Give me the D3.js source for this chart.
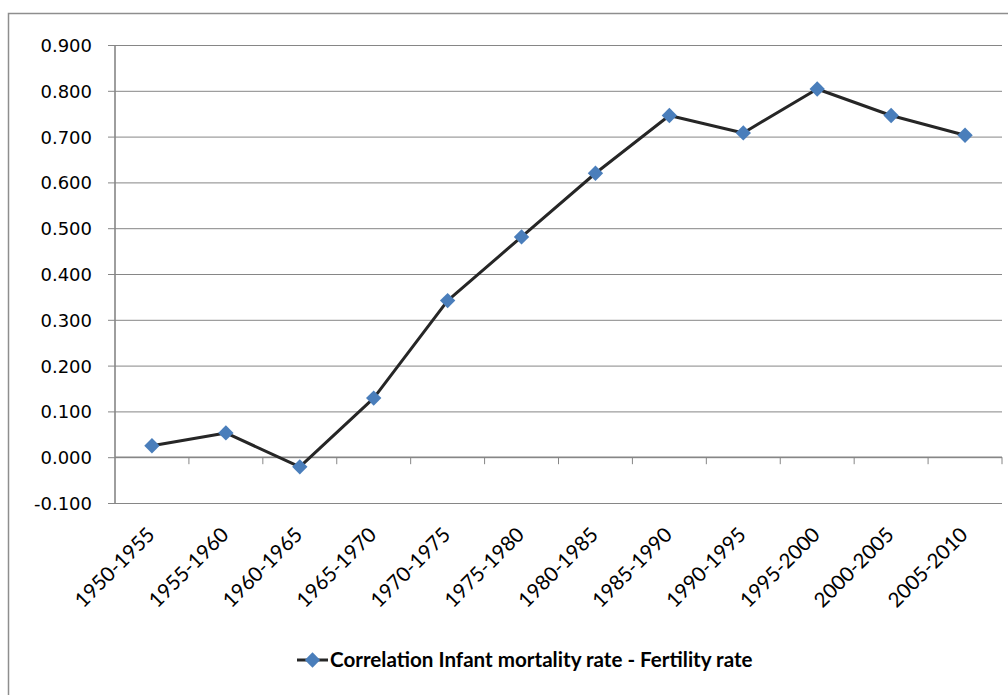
<!DOCTYPE html>
<html>
<head>
<meta charset="utf-8">
<script src="https://cdn.jsdelivr.net/npm/d3@7"></script>
<style>
  html, body { margin: 0; padding: 0; background: #fff; }
  svg { display: block; }
</style>
</head>
<body>
<svg id="chart" width="1008" height="695"></svg>
<script>
// Periods on the x axis
const periods = ["1950-1955", "1955-1960", "1960-1965", "1965-1970", "1970-1975", "1975-1980",
                 "1980-1985", "1985-1990", "1990-1995", "1995-2000", "2000-2005", "2005-2010"];
// Correlation between infant mortality rate and fertility rate per period
const correlation = [0.025, 0.053, -0.021, 0.129, 0.342, 0.481, 0.620, 0.746, 0.708, 0.804, 0.746, 0.703];
// Value axis ticks
const yTicks = [-0.1, 0, 0.1, 0.2, 0.3, 0.4, 0.5, 0.6, 0.7, 0.8, 0.9];
const seriesName = "Correlation Infant mortality rate - Fertility rate";

const svg = d3.select("#chart");
const plot = { left: 115, right: 1002, top: 45, bottom: 503 };

const x = d3.scaleBand().domain(periods).range([plot.left, plot.right]).padding(0);
const y = d3.scaleLinear().domain([-0.1, 0.9]).range([plot.bottom, plot.top]);

// Chart frame
svg.append("path")
  .attr("d", "M8.5,700 V13.5 H1010")
  .attr("fill", "none")
  .attr("stroke", "#8e8e8e")
  .attr("stroke-width", 1.5);

// Plain hyphen for negatives, three decimals
const fmt = d => d.toFixed(3);

// Horizontal gridlines with small ticks left of the value axis
const yAxis = d3.axisLeft(y)
  .tickValues(yTicks)
  .tickSize(-(plot.right - plot.left))
  .tickFormat(fmt);
const gy = svg.append("g")
  .attr("transform", `translate(${plot.left},0)`)
  .call(yAxis);
gy.select(".domain").remove();
gy.selectAll(".tick line")
  .attr("x1", -7)
  .attr("stroke", "#868686")
  .attr("stroke-width", 1);
gy.selectAll(".tick text")
  .attr("x", -23)
  .attr("dy", "0.36em")
  .attr("fill", "#000")
  .style("font-family", "'DejaVu Sans', sans-serif")
  .style("font-size", "18px");

// Vertical value axis line
svg.append("line")
  .attr("x1", plot.left).attr("x2", plot.left)
  .attr("y1", plot.top).attr("y2", plot.bottom)
  .attr("stroke", "#868686")
  .attr("stroke-width", 1.6);

// Category axis at zero with tick marks on band boundaries
const boundaries = periods.map(p => x(p)).concat([plot.right]);
svg.append("line")
  .attr("x1", plot.left).attr("x2", plot.right)
  .attr("y1", y(0)).attr("y2", y(0))
  .attr("stroke", "#868686")
  .attr("stroke-width", 1.6);
svg.append("g").selectAll("line")
  .data(boundaries.slice(1))
  .join("line")
  .attr("x1", d => d).attr("x2", d => d)
  .attr("y1", y(0)).attr("y2", y(0) + 7)
  .attr("stroke", "#868686")
  .attr("stroke-width", 1);

// Rotated category labels below the plot
svg.append("g").selectAll("text")
  .data(periods)
  .join("text")
  .attr("transform", d => `translate(${x(d) + x.bandwidth() / 2 + 4},536) rotate(-45)`)
  .attr("text-anchor", "end")
  .attr("fill", "#000")
  .style("font-family", "Lato, 'Open Sans', sans-serif")
  .style("font-size", "20.5px")
  .text(d => d);

// Series line
const cx = (d, i) => x(periods[i]) + x.bandwidth() / 2;
const line = d3.line().x((d, i) => cx(d, i)).y(d => y(d));
svg.append("path")
  .datum(correlation)
  .attr("d", line)
  .attr("fill", "none")
  .attr("stroke", "#262626")
  .attr("stroke-width", 3)
  .attr("stroke-linejoin", "round");

// Diamond markers
const diamond = d3.symbol().type(d3.symbolSquare).size(118);
svg.append("g").selectAll("path")
  .data(correlation)
  .join("path")
  .attr("d", diamond)
  .attr("transform", (d, i) => `translate(${cx(d, i)},${y(d)}) rotate(45)`)
  .attr("fill", "#4a7ebb");

// Legend
const legend = svg.append("g").attr("transform", "translate(297,660)");
legend.append("line")
  .attr("x1", 0).attr("x2", 31)
  .attr("stroke", "#262626")
  .attr("stroke-width", 3);
legend.append("path")
  .attr("d", diamond)
  .attr("transform", "translate(15.5,0) rotate(45)")
  .attr("fill", "#4a7ebb");
legend.append("text")
  .attr("x", 33)
  .attr("dy", "0.35em")
  .attr("fill", "#000")
  .style("font-family", "Lato, 'Open Sans', sans-serif")
  .style("font-weight", "bold")
  .style("font-size", "20.6px")
  .text(seriesName);
</script>
</body>
</html>
